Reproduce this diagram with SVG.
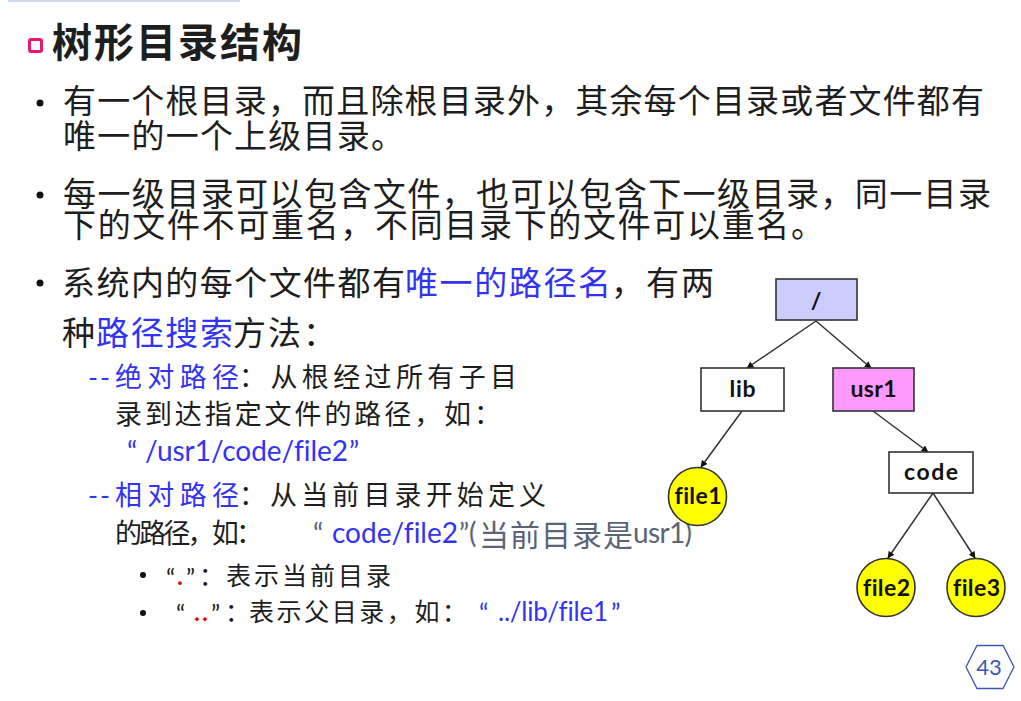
<svg xmlns="http://www.w3.org/2000/svg" width="1021" height="701" viewBox="0 0 1021 701">
<defs>
<style>
text{font-variant-ligatures:none}
.cjk{font-family:"Noto Sans CJK SC",sans-serif;fill:#1e1e1e}
.lat{font-family:Lato,"Noto Sans CJK SC",sans-serif}
.blue{fill:#3333f5}
.gray{fill:#5a6476}
.red{fill:#e01010}
.b1{font-size:33px}
.b2{font-size:27px}
.b3{font-size:25px}
.node rect{stroke:#333;stroke-width:1.6}
.node circle{fill:#ffff00;stroke:#333;stroke-width:1.6}
.node text{font-family:Lato,"Liberation Sans",sans-serif;font-weight:bold;font-size:23px;fill:#111;text-anchor:middle}
.edge{stroke:#333;stroke-width:1.5;fill:none;marker-end:url(#ah)}
</style>
<marker id="ah" viewBox="0 0 10 10" refX="9" refY="5" markerWidth="7" markerHeight="7" markerUnits="userSpaceOnUse" orient="auto">
<path d="M0,0 L10,5 L0,10 z" fill="#111"/>
</marker>
</defs>
<rect width="1021" height="701" fill="#ffffff"/>
<rect x="8" y="0" width="232" height="2" fill="#cdd7ee"/>

<!-- title -->
<g id="title">
<rect x="29.5" y="39.5" width="12" height="12" rx="1.5" fill="#fff" stroke="#e8186b" stroke-width="3"/>
<text x="52" y="57" class="cjk" font-size="40" font-weight="bold" textLength="250" fill="#111">树形目录结构</text>
</g>

<!-- bullets -->
<g id="body">
<circle cx="40" cy="103" r="3.5" fill="#111"/>
<text x="63" y="113" class="cjk b1" textLength="921">有一个根目录，而且除根目录外，其余每个目录或者文件都有</text>
<text x="63" y="148" class="cjk b1" textLength="341">唯一的一个上级目录。</text>

<circle cx="40" cy="195" r="3.5" fill="#111"/>
<text x="63" y="206" class="cjk b1" textLength="928">每一级目录可以包含文件，也可以包含下一级目录，同一目录</text>
<text x="63" y="237" class="cjk b1" textLength="761">下的文件不可重名，不同目录下的文件可以重名。</text>

<circle cx="40" cy="283" r="3.5" fill="#111"/>
<text x="62" y="295" class="cjk b1" textLength="343">系统内的每个文件都有</text>
<text x="405" y="295" class="cjk b1 blue" textLength="206">唯一的路径名</text>
<text x="611" y="295" class="cjk b1" textLength="103">，有两</text>
<text x="62" y="345" class="cjk b1">种</text>
<text x="96" y="345" class="cjk b1 blue" textLength="137">路径搜索</text>
<text x="233" y="345" class="cjk b1" textLength="103">方法：</text>

<text x="88" y="387" class="lat b2 blue" textLength="22">--</text>
<text x="115" y="387" class="cjk b2 blue" textLength="124">绝对路径</text>
<text x="239" y="387" class="cjk b2" textLength="278">：从根经过所有子目</text>
<text x="115" y="424" class="cjk b2" textLength="386">录到达指定文件的路径，如：</text>
<text x="127" y="462" class="lat blue" font-size="28">“</text>
<text x="145" y="461" class="lat blue" font-size="28" textLength="203">/usr1/code/file2</text>
<text x="349" y="462" class="lat blue" font-size="28">”</text>

<text x="88" y="505" class="lat b2 blue" textLength="22">--</text>
<text x="115" y="505" class="cjk b2 blue" textLength="124">相对路径</text>
<text x="239" y="505" class="cjk b2" textLength="307">：从当前目录开始定义</text>
<text x="115" y="543" class="cjk b2" textLength="148">的路径，如：</text>
<text x="313" y="544" class="lat gray" font-size="28">“</text>
<text x="332" y="543" class="lat blue" font-size="28" textLength="126">code/file2</text>
<text x="459" y="544" class="lat gray" font-size="28">”</text>
<text x="469" y="543" class="lat gray" font-size="28">(</text>
<text x="479" y="546" class="cjk gray" font-size="30" textLength="154">当前目录是</text>
<text x="633" y="543" class="lat gray" font-size="28" textLength="59">usr1)</text>

<circle cx="143" cy="575" r="3" fill="#111"/>
<text x="166" y="587" class="lat b3" fill="#222">“</text>
<text x="177" y="585" class="lat b3 red" font-weight="bold">.</text>
<text x="186" y="587" class="lat b3" fill="#222">”</text>
<text x="199" y="585" class="cjk b3">：</text>
<text x="226" y="585" class="cjk b3" textLength="165">表示当前目录</text>

<circle cx="143" cy="613" r="3" fill="#111"/>
<text x="176" y="623" class="lat b3" fill="#222">“</text>
<text x="194" y="621" class="lat b3 red" font-weight="bold" textLength="14">..</text>
<text x="211" y="623" class="lat b3" fill="#222">”</text>
<text x="225" y="621" class="cjk b3">：</text>
<text x="249" y="621" class="cjk b3" textLength="218">表示父目录，如：</text>
<text x="479" y="623" class="lat blue" font-size="26">“</text>
<text x="498" y="621" class="lat blue" font-size="26" textLength="110">../lib/file1</text>
<text x="611" y="623" class="lat blue" font-size="26">”</text>
</g>

<!-- connectors -->
<g id="connectors">
<line class="edge" x1="816" y1="321" x2="747" y2="368"/>
<line class="edge" x1="816" y1="321" x2="871" y2="368"/>
<line class="edge" x1="742" y1="411" x2="701" y2="467"/>
<line class="edge" x1="873" y1="411" x2="928" y2="452"/>
<line class="edge" x1="933" y1="493" x2="888" y2="558"/>
<line class="edge" x1="933" y1="493" x2="975" y2="558"/>
</g>

<!-- nodes -->
<g id="node-root" class="node">
<rect x="776" y="279" width="81" height="41" fill="#ccccff"/>
<text x="816" y="309" font-size="26">/</text>
</g>
<g id="node-lib" class="node">
<rect x="701" y="368" width="83" height="43" fill="#ffffff"/>
<text x="742.5" y="397" textLength="26">lib</text>
</g>
<g id="node-usr1" class="node">
<rect x="833" y="368" width="81" height="43" fill="#ff99ff"/>
<text x="873.5" y="397" textLength="46">usr1</text>
</g>
<g id="node-code" class="node">
<rect x="889" y="452" width="84" height="41" fill="#ffffff"/>
<text x="931" y="480" textLength="54">code</text>
</g>
<g id="node-file1" class="node">
<circle cx="697.5" cy="496.5" r="29"/>
<text x="698" y="504" textLength="47">file1</text>
</g>
<g id="node-file2" class="node">
<circle cx="886" cy="587.5" r="29"/>
<text x="886.5" y="596" textLength="47">file2</text>
</g>
<g id="node-file3" class="node">
<circle cx="976" cy="587.5" r="29"/>
<text x="976.5" y="596" textLength="47">file3</text>
</g>

<!-- page number -->
<g id="page-number">
<polygon points="966,667 977,645.5 1003,645.5 1014,667 1003,688.5 977,688.5" fill="none" stroke="#3d55b8" stroke-width="1.3"/>
<text x="989" y="675" font-family="Lato,'Liberation Sans',sans-serif" font-size="22" fill="#3d55b8" text-anchor="middle">43</text>
</g>
</svg>
